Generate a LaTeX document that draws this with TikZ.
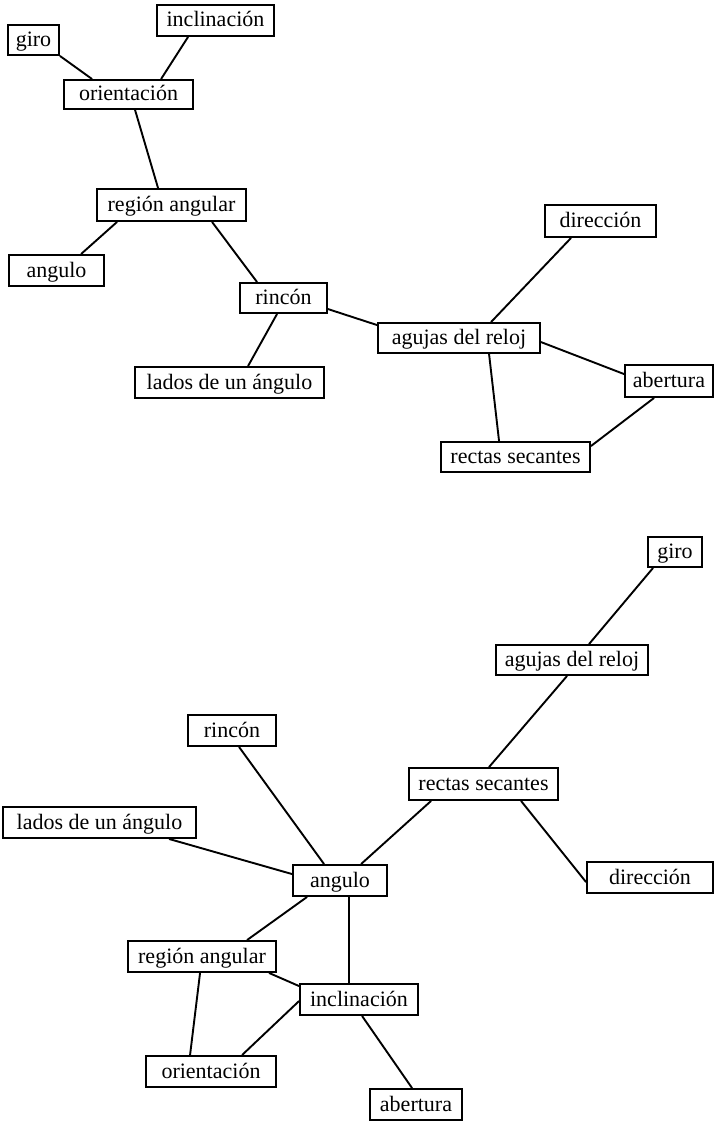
\documentclass[tikz,border=0pt]{standalone}
\usepackage{fontspec}
\setmainfont{Liberation Serif}
\begin{document}
\begin{tikzpicture}[x=1pt,y=-1pt,
  box/.style={draw, line width=1.9pt, inner sep=0pt, fill=white,
    font=\fontsize{22}{26}\selectfont, text height=18pt, text depth=5pt},
  link/.style={line width=1.9pt}]
\useasboundingbox (0,0) rectangle (714,1121);

% ---- upper map ----
\node[box, minimum width=51pt,  minimum height=30pt] (tgiro)   at (33.5,40)    {giro};
\node[box, minimum width=117pt, minimum height=31pt] (tincl)   at (215.5,20.5) {inclinación};
\node[box, minimum width=129pt, minimum height=29pt] (torient) at (128.5,94.5) {orientación};
\node[box, minimum width=149pt, minimum height=32pt] (tregion) at (171.5,205)  {región angular};
\node[box, minimum width=95pt,  minimum height=31pt] (tangulo) at (56.5,270.5) {angulo};
\node[box, minimum width=87pt,  minimum height=30pt] (trincon) at (283.5,298)  {rincón};
\node[box, minimum width=189pt, minimum height=31pt] (tlados)  at (229.5,382.5){lados de un ángulo};
\node[box, minimum width=162pt, minimum height=30pt] (tagujas) at (459,338)    {agujas del reloj};
\node[box, minimum width=111pt, minimum height=32pt] (tdir)    at (600.5,221)  {dirección};
\node[box, minimum width=88pt,  minimum height=32pt] (taber)   at (669,381)    {abertura};
\node[box, minimum width=149pt, minimum height=30pt] (trectas) at (515.5,457)  {rectas secantes};

\draw[link] (tgiro.south east) -- ([xshift=29pt]torient.north west);
\draw[link] ([xshift=32pt]tincl.south west) -- ([xshift=98pt]torient.north west);
\draw[link] ([xshift=72pt]torient.south west) -- ([xshift=62pt]tregion.north west);
\draw[link] ([xshift=21pt]tregion.south west) -- ([xshift=73pt]tangulo.north west);
\draw[link] ([xshift=116pt]tregion.south west) -- ([xshift=18pt]trincon.north west);
\draw[link] ([xshift=38pt]trincon.south west) -- ([xshift=114pt]tlados.north west);
\draw[link] ([yshift=-27pt]trincon.north east) -- ([yshift=-3pt]tagujas.north west);
\draw[link] ([xshift=114pt]tagujas.north west) -- ([xshift=27pt]tdir.south west);
\draw[link] ([yshift=-20pt]tagujas.north east) -- ([yshift=-10pt]taber.north west);
\draw[link] ([xshift=112pt]tagujas.south west) -- ([xshift=59pt]trectas.north west);
\draw[link] ([xshift=30pt]taber.south west) -- ([yshift=-5pt]trectas.north east);

% ---- lower map ----
\node[box, minimum width=54pt,  minimum height=30pt] (bgiro)   at (675,552)     {giro};
\node[box, minimum width=152pt, minimum height=30pt] (bagujas) at (572,660)     {agujas del reloj};
\node[box, minimum width=149pt, minimum height=32pt] (brectas) at (483.5,784)   {rectas secantes};
\node[box, minimum width=126pt, minimum height=31pt] (bdir)    at (650,877.5)   {dirección};
\node[box, minimum width=88pt,  minimum height=31pt] (brincon) at (232,730.5)   {rincón};
\node[box, minimum width=193pt, minimum height=31pt] (blados)  at (99.5,822.5)  {lados de un ángulo};
\node[box, minimum width=94pt,  minimum height=31pt] (bangulo) at (340,880.5)   {angulo};
\node[box, minimum width=148pt, minimum height=31pt] (bregion) at (202,956.5)   {región angular};
\node[box, minimum width=118pt, minimum height=31pt] (bincl)   at (359,999.5)   {inclinación};
\node[box, minimum width=130pt, minimum height=31pt] (borient) at (211,1071.5)  {orientación};
\node[box, minimum width=92pt,  minimum height=31pt] (baber)   at (416,1104.5)  {abertura};

\draw[link] ([xshift=6pt]bgiro.south west) -- ([xshift=94pt]bagujas.north west);
\draw[link] ([xshift=72pt]bagujas.south west) -- ([xshift=81pt]brectas.north west);
\draw[link] ([xshift=23pt]brectas.south west) -- ([xshift=69pt]bangulo.north west);
\draw[link] ([xshift=113pt]brectas.south west) -- ([yshift=-21pt]bdir.north west);
\draw[link] ([xshift=52pt]brincon.south west) -- ([xshift=32pt]bangulo.north west);
\draw[link] ([xshift=167pt]blados.south west) -- ([yshift=-10pt]bangulo.north west);
\draw[link] ([xshift=15pt]bangulo.south west) -- ([xshift=120pt]bregion.north west);
\draw[link] ([xshift=57pt]bangulo.south west) -- ([xshift=50pt]bincl.north west);
\draw[link] ([xshift=142pt]bregion.south west) -- ([yshift=-3pt]bincl.north west);
\draw[link] ([xshift=73pt]bregion.south west) -- ([xshift=45pt]borient.north west);
\draw[link] ([yshift=-18pt]bincl.north west) -- ([xshift=97pt]borient.north west);
\draw[link] ([xshift=63pt]bincl.south west) -- ([xshift=43pt]baber.north west);
\end{tikzpicture}
\end{document}
